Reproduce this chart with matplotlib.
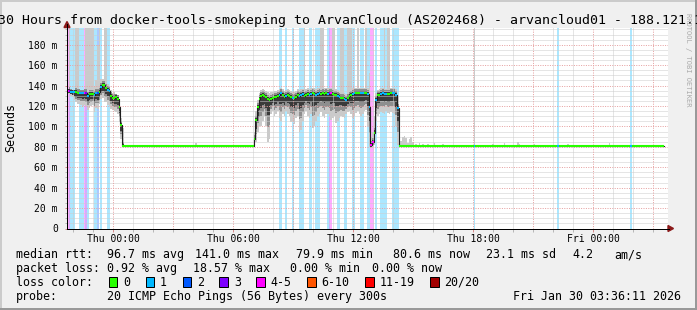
import numpy as np
import matplotlib.pyplot as plt
from matplotlib.collections import LineCollection
from matplotlib.lines import Line2D
from matplotlib.patches import Polygon, Rectangle

W, H = 697, 310
MONO = 'DejaVu Sans Mono'

# time axis in hours relative to Thu 00:00, one round of pings every 300 s
STEP_H = 5 / 60
START_H = -2.315
END_H = 27.71
N_STEPS = 358
hour_ticks = [0, 6, 12, 18, 24]
hour_labels = ['Thu 00:00', 'Thu 06:00', 'Thu 12:00', 'Thu 18:00', 'Fri 00:00']
rtt_ticks = [0, 20, 40, 60, 80, 100, 120, 140, 160, 180]
RTT_TOP = 196

# loss classes (lost pings out of 20)
loss_limits = [0, 1, 2, 3, 5, 10, 19, 20]
loss_names = ['0', '1', '2', '3', '4-5', '6-10', '11-19', '20/20']
loss_colors = ['#26ff00', '#00b8ff', '#0059ff', '#7e00ff', '#ff00ff',
               '#ff5500', '#ff0000', '#a10000']

# first busy stretch, steps 0..33 (ms)
busy1_first = 0
busy1_median = [134.7, 134.7, 134, 133.7, 133.5, 133.3, 133, 133, 133, 132.7,
                132.4, 132.4, 130, 131.5, 132, 132, 131, 132.7, 132.7, 134,
                139, 140.5, 140.5, 138, 136, 134.7, 130, 128, 127.5, 128.5,
                127, 119.3, 101, 81]
busy1_loss = [4, 3, 1, 1, 1, 0, 0, 1, 1, 1,
              4, 3, 1, 0, 0, 0, 1, 1, 2, 0,
              1, 0, 0, 0, 1, 1, 0, 0, 0, 0,
              0, 0, 0, 0]
busy1_low = [132, 132, 130, 129, 126, 124, 122, 122, 121, 120,
             121, 120, 116, 118, 120, 121, 114, 118, 117, 122,
             127, 128, 124, 124, 121, 120, 117, 116, 115, 114,
             112, 104, 88, 79.8]
busy1_high = [137, 200, 137, 136, 136, 200, 200, 137, 136, 136,
              137, 200, 200, 200, 200, 200, 140, 145, 180, 200,
              146, 146, 200, 200, 142, 140, 136, 133, 134, 132,
              131, 124, 108, 98]

# second busy stretch, steps 112..198 (ms)
busy2_first = 112
busy2_median = [88, 106, 119, 127, 130, 131, 130, 129, 127, 125.5,
                127, 128, 128.5, 129, 130, 131, 132.4, 131, 129, 130,
                130.7, 130, 129, 128, 127.5, 129, 130.7, 130, 131, 131.5,
                130, 131, 132, 131, 132, 132.4, 132, 131, 132, 132.5,
                132, 132.5, 132, 132.5, 132, 132.4, 132.4, 132, 131, 130.7,
                130, 129, 128, 127.5, 127, 126, 128, 130, 131, 132,
                132.4, 132.4, 132.5, 132.5, 132.5, 132.5, 132.5, 133, 132, 119,
                82, 85, 94, 126, 130.7, 131, 132, 132.4, 132, 131.5,
                131.5, 132, 132.4, 132.4, 132.4, 131, 118]
busy2_loss = [0, 0, 0, 0, 0, 0, 0, 0, 0, 0,
              0, 0, 0, 0, 0, 1, 1, 0, 0, 1,
              0, 0, 0, 1, 0, 0, 0, 1, 1, 1,
              0, 0, 0, 1, 1, 0, 0, 1, 1, 1,
              0, 0, 0, 0, 1, 3, 4, 0, 0, 0,
              1, 1, 0, 0, 1, 1, 0, 0, 0, 1,
              1, 0, 0, 0, 1, 1, 0, 0, 1, 1,
              4, 4, 0, 1, 0, 0, 1, 1, 1, 1,
              0, 0, 0, 1, 1, 1, 1]
busy2_low = [82, 85, 95, 100, 100, 105, 110, 100, 85, 88,
             112, 115, 110, 112, 115, 108, 105, 112, 110, 115,
             112, 110, 104, 104, 102, 108, 110, 95, 96, 105,
             112, 115, 110, 108, 112, 98, 100, 105, 110, 112,
             114, 110, 108, 112, 112, 110, 106, 108, 110, 103,
             105, 108, 110, 109, 108, 112, 114, 115, 112, 108,
             110, 113, 115, 112, 110, 112, 115, 116, 100, 80,
             79, 80, 82, 105, 110, 112, 114, 113, 112, 115,
             113, 112, 114, 113, 112, 100, 82]
busy2_high = [95, 115, 126, 133, 136, 137, 136, 135, 134, 133,
              134, 134, 135, 135, 136, 137, 138, 137, 135, 136,
              137, 136, 135, 134, 134, 135, 137, 136, 137, 137,
              200, 137, 138, 137, 138, 138, 138, 137, 138, 138,
              200, 200, 138, 138, 138, 138, 138, 200, 200, 137,
              136, 135, 200, 200, 133, 132, 200, 200, 200, 138,
              138, 138, 200, 138, 138, 138, 138, 200, 138, 152,
              90, 95, 110, 133, 136, 137, 138, 138, 200, 137,
              200, 200, 138, 138, 138, 137, 130]

# quiet stretches: (first step, end step, median ms)
quiet = [(34, 112, 80.5), (199, 358, 80.5)]
quiet_loss = [(244, 1), (294, 1), (338, 1)]
quiet_high = [(77, 83.5), (200, 86), (201, 90), (202, 91), (203, 89), (204, 84),
              (205, 88), (206, 90), (207, 85), (209, 83), (211, 84), (213, 83),
              (216, 83), (220, 84), (225, 83), (244, 200), (255, 83), (262, 84),
              (270, 85), (271, 83), (280, 82.5), (300, 83), (325, 84)]

# legend texts
rtt_items = ['median rtt:', '96.7 ms avg', '141.0 ms max', '79.9 ms min',
             '80.6 ms now', '23.1 ms sd', '4.2', 'am/s']
pl_items = ['packet loss:', '0.92 % avg', '18.57 % max', '0.00 % min', '0.00 % now']
probe_text = '20 ICMP Echo Pings (56 Bytes) every 300s'
stamp_text = 'Fri Jan 30 03:36:11 2026'
title_text = ('30 Hours from docker-tools-smokeping to ArvanCloud (AS202468)'
              ' - arvancloud01 - 188.121.1')


def loss_color(n):
    for lim, col in zip(loss_limits, loss_colors):
        if n <= lim:
            return col
    return loss_colors[-1]


def fx(x):
    return x / W


def fy(y):
    return 1 - y / H


# assemble the per-step series
median = np.full(N_STEPS, np.nan)
loss = np.zeros(N_STEPS, dtype=int)
low = np.full(N_STEPS, np.nan)
high = np.full(N_STEPS, np.nan)
busy = np.zeros(N_STEPS, dtype=bool)
for a, b, v in quiet:
    median[a:b] = v
for first, med, ls, lo, hi in [(busy1_first, busy1_median, busy1_loss, busy1_low, busy1_high),
                               (busy2_first, busy2_median, busy2_loss, busy2_low, busy2_high)]:
    sl = slice(first, first + len(med))
    median[sl] = med
    loss[sl] = ls
    low[sl] = lo
    high[sl] = hi
    busy[sl] = True
for k, v in quiet_loss:
    loss[k] = v
for k, v in quiet_high:
    low[k] = median[k]
    high[k] = v

t = START_H + np.arange(N_STEPS) * STEP_H

fig = plt.figure(figsize=(W / 100, H / 100), dpi=100, facecolor='#f0f0f0')
ax = fig.add_axes([fx(67), fy(228.5), (667.5 - 67) / W, (228.5 - 28.4) / H])
ax.set_facecolor('white')
ax.set_xlim(START_H, END_H)
ax.set_ylim(0, RTT_TOP)
for s in ax.spines.values():
    s.set_visible(False)

# loss background
lossy = loss > 0
ax.bar(t[lossy], RTT_TOP, width=STEP_H, align='edge', bottom=0,
       color=[loss_color(n) for n in loss[lossy]], alpha=0.33, linewidth=0, zorder=1)

# smoke, three shades from the outer pings towards the median
has = ~np.isnan(high)
top = np.minimum(high, RTT_TOP)
ax.bar(t[has], top[has] - low[has], bottom=low[has], width=STEP_H, align='edge',
       color='#cacaca', linewidth=0, zorder=2)
mid_lo = median - 0.65 * (median - low)
mid_hi = np.minimum(top, median + 4)
ax.bar(t[busy], mid_hi[busy] - mid_lo[busy], bottom=mid_lo[busy], width=STEP_H,
       align='edge', color='#8e8e8e', linewidth=0, zorder=2)
dk_lo = np.maximum(low, median - 0.35 * (median - low) - 1)
dk_hi = np.minimum(top, median + 2)
ax.bar(t[busy], dk_hi[busy] - dk_lo[busy], bottom=dk_lo[busy], width=STEP_H,
       align='edge', color='#3a3a3a', linewidth=0, zorder=2)

# grid
for v in range(5, RTT_TOP, 5):
    major = v % 20 == 0
    ax.axhline(v, color='#e6a2a2' if major else '#cdcdcd', lw=0.72,
               linestyle=(0, (1, 1.4 if major else 1)), zorder=3)
for h in range(-2, 28):
    major = h % 3 == 0
    ax.axvline(h, color='#e6a2a2' if major else '#cdcdcd', lw=0.72,
               linestyle=(0, (1, 1.4 if major else 1)), zorder=3)

# median line
xs = np.append(t, t[-1] + STEP_H)
ax.plot(xs, np.append(median, median[-1]), drawstyle='steps-post',
        color='#1e1e1e', lw=0.8, zorder=4)
segs = [[(tk, m), (tk + STEP_H, m)] for tk, m in zip(t, median)]
ax.add_collection(LineCollection(segs, colors=[loss_color(n) for n in loss],
                                 linewidths=1.5, capstyle='butt', zorder=5))

# ticks
ax.set_xticks(hour_ticks, hour_labels)
ax.set_xticks(np.arange(-2, 28), minor=True)
ax.set_yticks(rtt_ticks, [f'{v} m' if v else '0' for v in rtt_ticks])
ax.set_yticks(np.arange(0, RTT_TOP, 5), minor=True)
ax.tick_params(axis='both', which='both', direction='out', width=0.72,
               labelsize=7, labelfontfamily=MONO, labelcolor='black')
ax.tick_params(axis='both', which='major', length=1.8, color='#d88a8a')
ax.tick_params(axis='both', which='minor', length=1.8, color='#b8b8b8')
ax.tick_params(axis='x', which='major', pad=2.3)
ax.tick_params(axis='y', which='major', pad=4.8)

# axes with arrows
arrow = '#8b1a1a'
fig.add_artist(Line2D([fx(67), fx(669)], [fy(228.5)] * 2, color='black', lw=0.72))
fig.add_artist(Line2D([fx(67)] * 2, [fy(228.5), fy(24)], color='black', lw=0.72))
fig.add_artist(Polygon([[fx(668), fy(225.5)], [fx(673.5), fy(228.5)], [fx(668), fy(231.5)]],
                       closed=True, color=arrow, transform=fig.transFigure))
fig.add_artist(Polygon([[fx(64), fy(27.5)], [fx(67), fy(21.5)], [fx(70), fy(27.5)]],
                       closed=True, color=arrow, transform=fig.transFigure))

# frame shading
for x0, y0, w, h, c in [(0, 0, W, 2, '#cbcbcb'), (0, 0, 2, H, '#cbcbcb'),
                        (0, H - 2, W, 2, '#999999'), (W - 2, 0, 2, H, '#999999')]:
    fig.add_artist(Rectangle((fx(x0), fy(y0 + h)), w / W, h / H, transform=fig.transFigure,
                             facecolor=c, edgecolor='none'))

# texts
fig.text(fx(-1.6), fy(24), title_text, family=MONO, fontsize=9.5, va='baseline', ha='left')
fig.text(fx(11), fy(128), 'Seconds', family=MONO, fontsize=8.35, rotation=90,
         ha='center', va='center')
fig.text(fx(688), fy(13), 'RRDTOOL / TOBI OETIKER', family=MONO, fontsize=5.1,
         rotation=270, ha='center', va='top', color='#aaaaaa')

kw = dict(family=MONO, fontsize=8.35, va='baseline', ha='left')
for txt, x in zip(rtt_items, [16, 107, 195, 296, 393, 486, 572, 614]):
    fig.text(fx(x), fy(258.3), txt, **kw)
for txt, x in zip(pl_items, [16, 107, 193, 290, 372]):
    fig.text(fx(x), fy(272.3), txt, **kw)
fig.text(fx(16), fy(285.9), 'loss color:', **kw)
bx = 108.7
for name, col in zip(loss_names, loss_colors):
    fig.add_artist(Rectangle((fx(bx), fy(286.7)), 8.7 / W, 9.4 / H, transform=fig.transFigure,
                             facecolor=col, edgecolor='black', lw=0.72))
    fig.text(fx(bx + 14.5), fy(285.9), name, **kw)
    bx = bx + 14.5 + len(name) * 7.0 + 15.4
fig.text(fx(16), fy(299.7), 'probe:', **kw)
fig.text(fx(107), fy(299.7), probe_text, **kw)
fig.text(fx(681), fy(299.7), stamp_text, family=MONO, fontsize=8.35, va='baseline', ha='right')

fig.savefig('out.png', dpi=100, facecolor=fig.get_facecolor())
